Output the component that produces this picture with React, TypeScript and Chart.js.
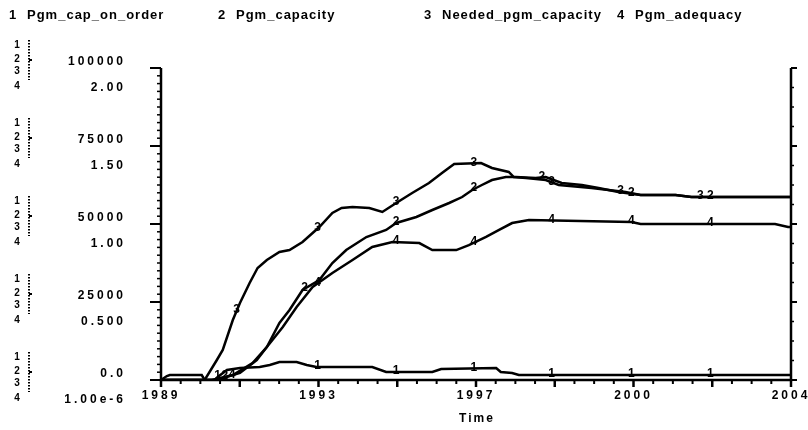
import React, { useEffect, useRef } from "react";
import { Chart, registerables } from "chart.js";

Chart.register(...registerables);

// ---------- data ----------
const seriesNames = ["Pgm_cap_on_order", "Pgm_capacity", "Needed_pgm_capacity", "Pgm_adequacy"];
const seriesNumbers = ["1", "2", "3", "4"];

const capOnOrderYears = [1989.0, 1989.14, 1989.21, 1989.97, 1990.04, 1990.28, 1990.35, 1990.57, 1990.88, 1991.35, 1991.59, 1991.82, 1992.23, 1992.47, 1992.7, 1994.03, 1994.36, 1995.46, 1995.67, 1996.98, 1997.09, 1997.36, 1997.52, 2004.0];
const capOnOrderValues = [0, 1280, 1600, 1600, 0, 0, 960, 3200, 3850, 4170, 4810, 5770, 5770, 4810, 4170, 4170, 2560, 2560, 3530, 3850, 2560, 2240, 1600, 1600];

const capacityYears = [1989.0, 1990.21, 1990.71, 1991.18, 1991.52, 1991.82, 1992.06, 1992.37, 1992.77, 1993.08, 1993.41, 1993.89, 1994.36, 1994.6, 1995.08, 1995.46, 1995.86, 1996.17, 1996.41, 1996.64, 1996.88, 1997.21, 1997.45, 1997.92, 1998.16, 1998.54, 1999.02, 1999.42, 1999.89, 2000.42, 2001.25, 2001.63, 2004.0];
const capacityValues = [0, 0, 1600, 5450, 10580, 18270, 22440, 28850, 32050, 37500, 41670, 45830, 48080, 50320, 52240, 54490, 56730, 58650, 60900, 62500, 64100, 65060, 65060, 64740, 65060, 63140, 62500, 61540, 60260, 59290, 59290, 58650, 58650];

const neededYears = [1989.0, 1990.04, 1990.33, 1990.47, 1990.71, 1990.88, 1991.11, 1991.3, 1991.52, 1991.82, 1992.06, 1992.37, 1992.77, 1993.08, 1993.3, 1993.56, 1993.96, 1994.27, 1994.6, 1994.98, 1995.38, 1995.69, 1995.98, 1996.62, 1996.88, 1997.28, 1997.4, 1997.69, 1998.16, 1998.47, 1999.25, 2000.06, 2000.42, 2001.25, 2001.63, 2004.0];
const neededValues = [0, 0, 6410, 9615, 19230, 24680, 31090, 35900, 38460, 41030, 41670, 44230, 49040, 53520, 55130, 55450, 55130, 53850, 56730, 59940, 63140, 66350, 69230, 69550, 67950, 66670, 65060, 64740, 64100, 62500, 61540, 60260, 59290, 59290, 58650, 58650];

const adequacyYears = [1989.0, 1990.33, 1990.88, 1991.28, 1991.52, 1991.9, 1992.23, 1992.61, 1993.08, 1993.56, 1994.03, 1994.51, 1995.15, 1995.46, 1996.03, 1996.33, 1996.74, 1997.05, 1997.36, 1997.76, 2000.2, 2000.42, 2003.62, 2003.93, 2004.0];
const adequacyValues = [0, 0, 0.045, 0.128, 0.212, 0.34, 0.468, 0.596, 0.686, 0.769, 0.853, 0.885, 0.878, 0.833, 0.833, 0.865, 0.917, 0.962, 1.006, 1.026, 1.013, 1.0, 1.0, 0.981, 0.981];

// where the series numbers are written along each line (years)
const capOnOrderLabelYears = [1990.35, 1992.73, 1994.6, 1996.45, 1998.3, 2000.2, 2002.08];
const capacityLabelYears = [1990.52, 1992.42, 1994.6, 1996.45, 1998.07, 2000.2, 2002.08];
const neededLabelYears = [1990.8, 1992.73, 1994.6, 1996.45, 1998.3, 1999.94, 2001.84];
const adequacyLabelYears = [1990.69, 1992.73, 1994.6, 1996.45, 1998.3, 2000.2, 2002.08];

const xMinYear = 1989;
const xMaxYear = 2004;
const xTickLabels = ["1989", "1993", "1997", "2000", "2004"];
const xAxisTitle = "Time";

const yTickValues = [0, 25000, 50000, 75000, 100000];
const yTickLabelsMain = ["0.0", "25000", "50000", "75000", "100000"];
const yTickLabelsAdequacy = ["1.00e-6", "0.500", "1.00", "1.50", "2.00"];

// ---------- drawing helpers ----------
const FONT = '"Liberation Sans", Arial, Helvetica, sans-serif';

function interp(xsArr: number[], ysArr: number[], x: number): number {
  for (let i = 0; i < xsArr.length - 1; i++) {
    if (x >= xsArr[i] && x <= xsArr[i + 1]) {
      const t = (x - xsArr[i]) / (xsArr[i + 1] - xsArr[i] || 1);
      return ysArr[i] + t * (ysArr[i + 1] - ysArr[i]);
    }
  }
  return ysArr[ysArr.length - 1];
}

const seriesYears = [capOnOrderYears, capacityYears, neededYears, adequacyYears];
const seriesValues = [capOnOrderValues, capacityValues, neededValues, adequacyValues];
const seriesLabelYears = [capOnOrderLabelYears, capacityLabelYears, neededLabelYears, adequacyLabelYears];
const seriesAxis = ["y", "y", "y", "y4"];

function setLS(ctx: CanvasRenderingContext2D, v: string) {
  (ctx as any).letterSpacing = v;
}

const stellaPlugin = {
  id: "stellaDecor",
  afterDraw(chart: any) {
    const ctx: CanvasRenderingContext2D = chart.ctx;
    const xs = chart.scales.x;
    const ys = chart.scales.y;
    const left = chart.chartArea.left;
    const right = chart.chartArea.right;
    const top = chart.chartArea.top;
    const bottom = chart.chartArea.bottom;
    ctx.save();
    ctx.strokeStyle = "#000";
    ctx.fillStyle = "#000";
    setLS(ctx, "0px");

    // series numbers on the lines
    ctx.font = `bold 12px ${FONT}`;
    ctx.textAlign = "center";
    ctx.textBaseline = "middle";
    for (let s = 0; s < 4; s++) {
      const sc = chart.scales[seriesAxis[s]];
      for (const yr of seriesLabelYears[s]) {
        const v = interp(seriesYears[s], seriesValues[s], yr);
        const px = xs.getPixelForValue(yr);
        const py = sc.getPixelForValue(v);
        ctx.fillText(seriesNumbers[s], px, py - 1);
      }
    }

    // axes lines
    ctx.lineWidth = 2.5;
    ctx.beginPath();
    ctx.moveTo(left, top);
    ctx.lineTo(left, bottom);
    ctx.lineTo(right, bottom);
    ctx.lineTo(right, top);
    ctx.stroke();

    // bottom ticks
    const nx = 32;
    for (let i = 0; i <= nx; i++) {
      const v = xs.min + ((xs.max - xs.min) * i) / nx;
      const px = xs.getPixelForValue(v);
      const major = i % 4 === 0;
      ctx.lineWidth = major ? 2.5 : 2;
      ctx.beginPath();
      ctx.moveTo(px, bottom);
      ctx.lineTo(px, bottom + (major ? 7 : 4));
      ctx.stroke();
    }
    // left ticks
    const nyL = 40;
    for (let i = 0; i <= nyL; i++) {
      const v = ys.min + ((ys.max - ys.min) * i) / nyL;
      const py = ys.getPixelForValue(v);
      const major = i % 10 === 0;
      ctx.lineWidth = major ? 2 : 1.5;
      ctx.beginPath();
      ctx.moveTo(left, py);
      ctx.lineTo(left - (major ? 11 : 4), py);
      ctx.stroke();
    }
    // right ticks
    const nyR = 16;
    for (let i = 0; i <= nyR; i++) {
      const v = ys.min + ((ys.max - ys.min) * i) / nyR;
      const py = ys.getPixelForValue(v);
      const major = i % 4 === 0;
      ctx.lineWidth = major ? 2 : 1.5;
      ctx.beginPath();
      ctx.moveTo(right, py);
      ctx.lineTo(right + (major ? 6 : 3), py);
      ctx.stroke();
    }

    // x tick labels
    ctx.font = `bold 12px ${FONT}`;
    setLS(ctx, "3px");
    ctx.textAlign = "center";
    ctx.textBaseline = "middle";
    xTickLabels.forEach((lab, k) => {
      const v = xs.min + ((xs.max - xs.min) * k) / (xTickLabels.length - 1);
      ctx.fillText(lab, xs.getPixelForValue(v), bottom + 16);
    });
    setLS(ctx, "2px");
    ctx.fillText(xAxisTitle, (left + right) / 2 + 1, bottom + 39);

    // y tick labels, two scales per tick
    yTickValues.forEach((tv, k) => {
      const py = ys.getPixelForValue(tv);
      setLS(ctx, "3px");
      ctx.textAlign = "right";
      ctx.font = `bold 12px ${FONT}`;
      ctx.fillText(yTickLabelsMain[k], 126, py - 6);
      ctx.fillText(yTickLabelsAdequacy[k], 126, py + 20);
      // series stack indicator
      setLS(ctx, "0px");
      ctx.textAlign = "center";
      ctx.font = `bold 10px ${FONT}`;
      const offs = [-23, -9, 3, 18];
      offs.forEach((o, j) => ctx.fillText(seriesNumbers[j], 17, py + o));
      ctx.lineWidth = 2;
      ctx.setLineDash([1.5, 1.5]);
      ctx.beginPath();
      ctx.moveTo(29, py - 28);
      ctx.lineTo(29, py + 12);
      ctx.stroke();
      ctx.setLineDash([]);
      ctx.beginPath();
      ctx.moveTo(29, py - 8);
      ctx.lineTo(32, py - 8);
      ctx.stroke();
    });

    // legend
    setLS(ctx, "1px");
    ctx.font = `bold 13px ${FONT}`;
    ctx.textAlign = "left";
    ctx.textBaseline = "middle";
    const legendX = [9, 218, 424, 617];
    seriesNames.forEach((nm, i) => {
      ctx.fillText(seriesNumbers[i], legendX[i], 15);
      ctx.fillText(nm, legendX[i] + 18, 15);
    });
    ctx.restore();
  },
};

export default function App() {
  const ref = useRef<HTMLCanvasElement | null>(null);
  useEffect(() => {
    if (!ref.current) return;
    const datasets = seriesNames.map((nm, s) => ({
      label: nm,
      data: seriesYears[s].map((x, i) => ({ x, y: seriesValues[s][i] })),
      yAxisID: seriesAxis[s],
      borderColor: "#000",
      borderWidth: 2.5,
      pointRadius: 0,
      tension: 0,
      fill: false,
    }));
    const chart = new Chart(ref.current, {
      type: "line",
      data: { datasets },
      options: {
        responsive: false,
        animation: false,
        layout: { padding: { left: 161, right: 17, top: 68, bottom: 50 } },
        plugins: { legend: { display: false }, tooltip: { enabled: false } },
        scales: {
          x: { type: "linear", min: xMinYear, max: xMaxYear, display: false },
          y: { type: "linear", min: 0, max: 100000, display: false },
          y4: { type: "linear", min: 0, max: 2, display: false },
        },
      },
      plugins: [stellaPlugin],
    } as any);
    return () => chart.destroy();
  }, []);
  return (
    <div style={{ position: "fixed", left: 0, top: 0, width: 808, height: 430, background: "#fff" }}>
      <canvas ref={ref} width={808} height={430} style={{ display: "block" }} />
    </div>
  );
}
